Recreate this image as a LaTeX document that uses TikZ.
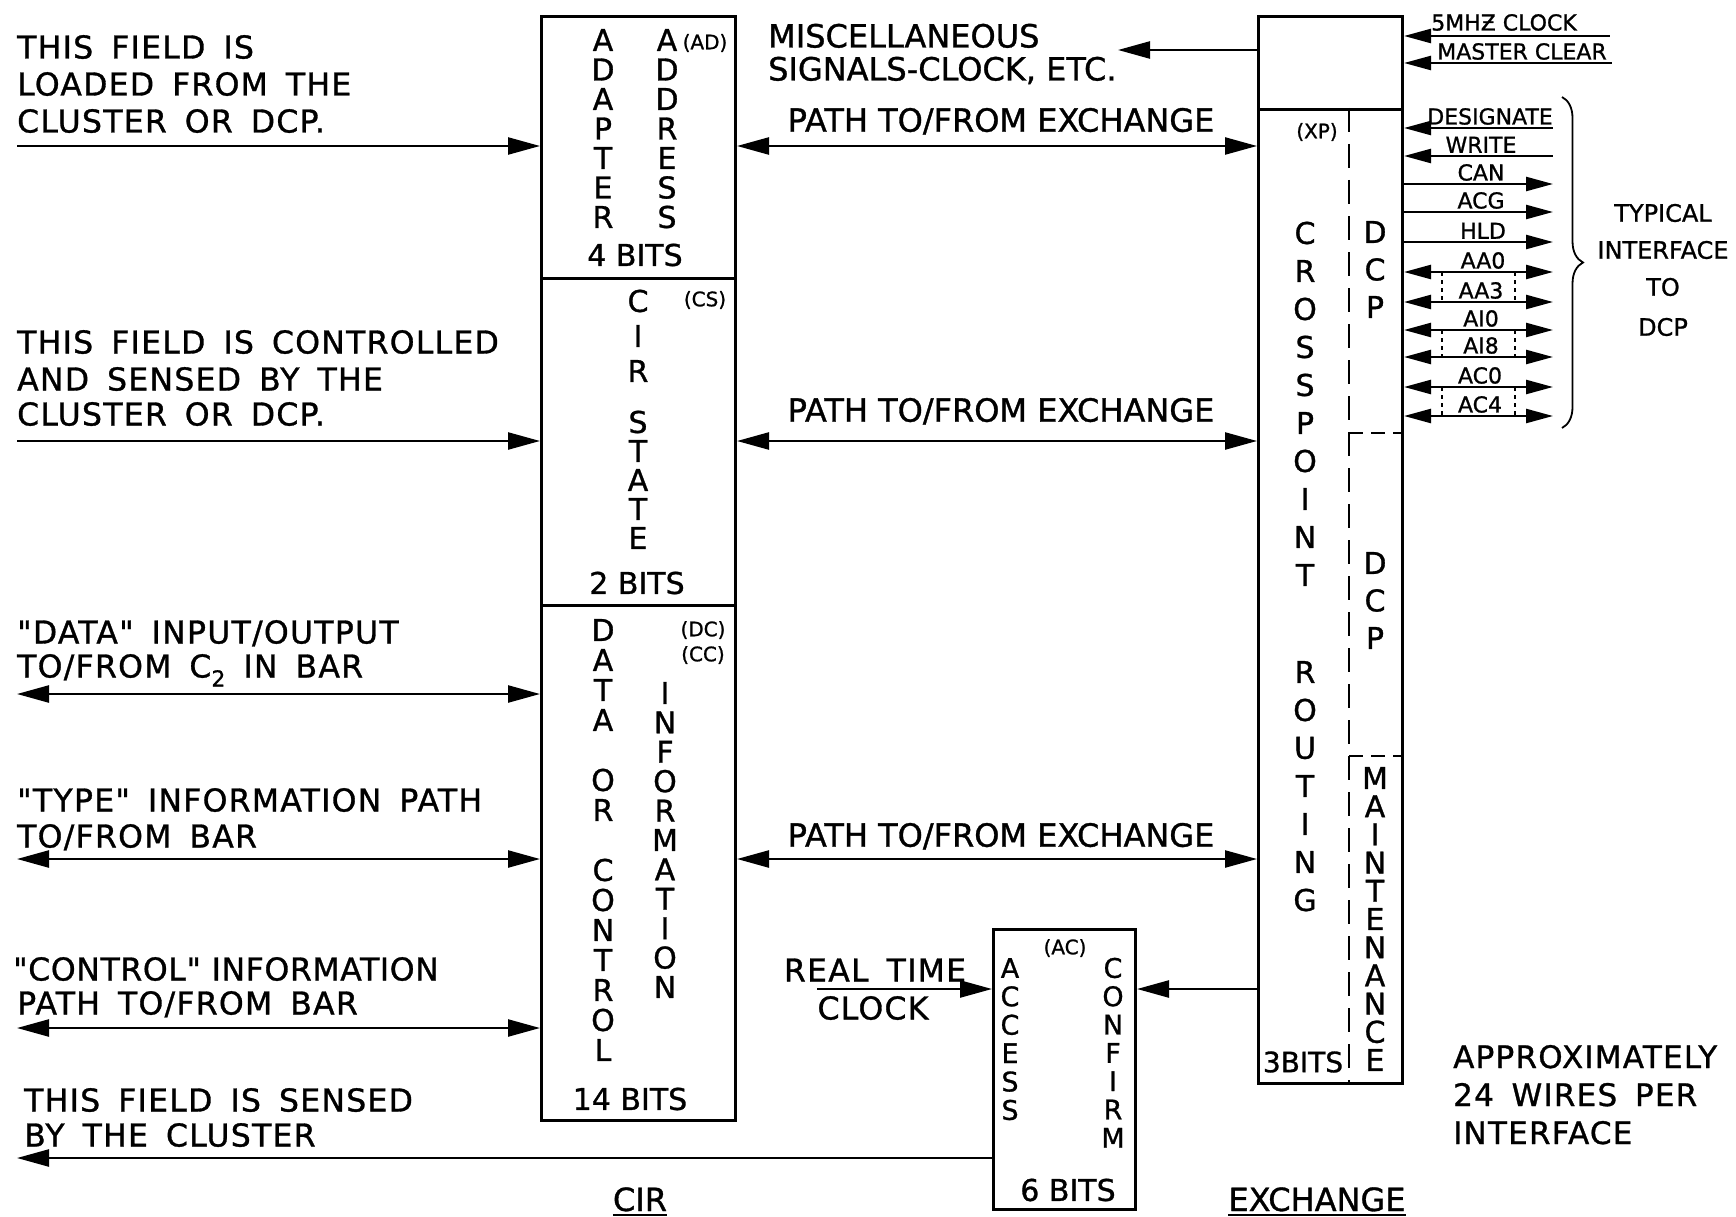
\documentclass[tikz,border=0pt]{standalone}
\usepackage{fontspec}
\setmainfont{DejaVu Sans}[FakeBold=1]
\newfontfamily\ltxt{DejaVu Sans}[LetterSpace=4,FakeBold=1,WordSpace=1.6]
\newfontfamily\ltxtn{DejaVu Sans}[LetterSpace=2,FakeBold=1]
\usetikzlibrary{arrows.meta,decorations.pathreplacing}
\newcommand\vword[5]{\foreach \lt [count=\i from 0] in {#5}{\node[vl] (#1-\i) at (#2,{#3+\i*#4}) {\lt};}}
\newcommand\vwords[5]{\foreach \lt [count=\i from 0] in {#5}{\node[vls] (#1-\i) at (#2,{#3+\i*#4}) {\lt};}}
\tikzset{
  box/.style={draw, line width=3pt, inner sep=0pt, anchor=north west},
  con/.style={line width=2.4pt},
  tipR/.style={-{Triangle[length=32pt,width=17pt]}},
  tipLR/.style={{Triangle[length=32pt,width=17pt]}-{Triangle[length=32pt,width=17pt]}},
  stipR/.style={-{Triangle[length=27pt,width=14pt]}},
  stipL/.style={{Triangle[length=27pt,width=14pt]}-},
  stipLR/.style={{Triangle[length=27pt,width=14pt]}-{Triangle[length=27pt,width=14pt]}},
  ltext/.style={anchor=base west, inner sep=0pt, font=\ltxt\fontsize{31.5}{36}\selectfont},
  mtext/.style={anchor=base, inner sep=0pt, font=\fontsize{32}{36}\selectfont},
  vl/.style={inner sep=0pt, font=\fontsize{30}{30}\selectfont},
  vls/.style={inner sep=0pt, font=\fontsize{27}{27}\selectfont},
  tag/.style={inner sep=0pt, font=\fontsize{20}{20}\selectfont},
  sig/.style={inner sep=0pt, anchor=south, font=\fontsize{22}{22}\selectfont},
  note/.style={inner sep=0pt, font=\fontsize{24}{24}\selectfont},
  dashv/.style={line width=2pt, dash pattern=on 24pt off 12pt},
  dashh/.style={line width=2pt, dash pattern=on 14pt off 8pt},
  dotv/.style={line width=1.6pt, dash pattern=on 4pt off 4pt},
}
\begin{document}
\begin{tikzpicture}[x=1pt,y=-1pt]
\fill[white] (0,0) rectangle (1736,1217);
\useasboundingbox (0,0) rectangle (1736,1217);

% ---------- CIR boxes
\node[box, minimum width=194pt, minimum height=262pt] (ad) at (540,15) {};
\node[box, minimum width=194pt, minimum height=327pt] (cs) at (540,277) {};
\node[box, minimum width=194pt, minimum height=515pt] (dc) at (540,604) {};

\vword{adapter}{603}{40}{29.5}{A,D,A,P,T,E,R}
\vword{address}{667}{40}{29.5}{A,D,D,R,E,S,S}
\node[tag] (adtag) at (705,43) {(AD)};
\node[vl] (adbits) at (635,255) {4 BITS};

\vword{cir}{638}{301}{35}{C,I,R}
\vword{state}{638}{422}{29}{S,T,A,T,E}
\node[tag] (cstag) at (705,300) {(CS)};
\node[vl] (csbits) at (637,583) {2 BITS};

\vword{data}{603}{630}{30}{D,A,T,A}
\vword{or}{603}{780}{30}{O,R}
\vword{control}{603}{870}{30}{C,O,N,T,R,O,L}
\vword{information}{665}{693}{29.4}{I,N,F,O,R,M,A,T,I,O,N}
\node[tag] (dctag) at (703,630) {(DC)};
\node[tag] (cctag) at (703,655) {(CC)};
\node[vl] (dcbits) at (630,1099) {14 BITS};

% ---------- Exchange box
\node[box, minimum width=144pt, minimum height=93pt] (xtop) at (1257,15) {};
\node[box, minimum width=144pt, minimum height=974pt] (xp) at (1257,108) {};
\draw[dashv] ([xshift=92pt]xp.north west) -- ([xshift=92pt]xp.south west);
\coordinate (h1) at (1349,433);
\coordinate (h2) at (1349,756);
\draw[dashh] (h1) -- (h1 -| xp.east);
\draw[dashh] (h2) -- (h2 -| xp.east);
\node[tag] (xptag) at (1317,132) {(XP)};
\vword{crosspoint}{1305}{233}{38}{C,R,O,S,S,P,O,I,N,T}
\vword{routing}{1305}{672}{38}{R,O,U,T,I,N,G}
\vword{dcpa}{1375}{232}{37.5}{D,C,P}
\vword{dcpb}{1375}{563}{37.5}{D,C,P}
\vword{maint}{1375}{778}{28.2}{M,A,I,N,T,E,N,A,N,C,E}
\node[inner sep=0pt, font=\fontsize{28}{28}\selectfont] (xpbits) at (1303,1062) {3BITS};

% ---------- AC box
\node[box, minimum width=142pt, minimum height=280pt] (ac) at (992,928) {};
\node[tag] (actag) at (1065,948) {(AC)};
\vwords{access}{1010}{968}{28.4}{A,C,C,E,S,S}
\vwords{confirm}{1113}{968}{28.3}{C,O,N,F,I,R,M}
\node[vl] (acbits) at (1068,1190) {6 BITS};

% ---------- left side texts
\node[ltext] (l1a) at (17,58.5) {THIS FIELD IS};
\node[ltext] (l1b) at (17,95.5) {LOADED FROM THE};
\node[ltext] (l1c) at (17,132.5) {CLUSTER OR DCP.};
\node[ltext] (l2a) at (17,353.5) {THIS FIELD IS CONTROLLED};
\node[ltext] (l2b) at (17,390.5) {AND SENSED BY THE};
\node[ltext] (l2c) at (17,425.5) {CLUSTER OR DCP.};
\node[ltext] (l3a) at (17,643.5) {"DATA" INPUT/OUTPUT};
\node[ltext] (l3b) at (17,677.5) {TO/FROM C\raisebox{-9pt}{\fontsize{22}{22}\selectfont 2} IN BAR};
\node[ltext] (l4a) at (17,811.5) {"TYPE" INFORMATION PATH};
\node[ltext] (l4b) at (17,847.5) {TO/FROM BAR};
\node[ltext, font=\ltxtn\fontsize{31.5}{36}\selectfont] (l5a) at (13,980.5) {"CONTROL" INFORMATION};
\node[ltext] (l5b) at (17,1014.5) {PATH TO/FROM BAR};
\node[ltext] (l6a) at (24,1111.5) {THIS FIELD IS SENSED};
\node[ltext] (l6b) at (24,1146.5) {BY THE CLUSTER};

% ---------- left connectors
\coordinate (a1) at (17,146);
\coordinate (a2) at (17,441);
\coordinate (a3) at (17,694);
\coordinate (a4) at (17,859);
\coordinate (a5) at (17,1028);
\coordinate (a6) at (17,1158);
\draw[con,tipR] (a1) -- (a1 -| ad.west);
\draw[con,tipR] (a2) -- (a2 -| cs.west);
\draw[con,tipLR] (a3) -- (a3 -| dc.west);
\draw[con,tipLR] (a4) -- (a4 -| dc.west);
\draw[con,tipLR] (a5) -- (a5 -| dc.west);
\draw[con,tipR] (a6 -| ac.west) -- (a6);

% ---------- middle connectors
\coordinate (p1) at (900,146);
\coordinate (p2) at (900,441);
\coordinate (p3) at (900,859);
\draw[con,tipLR] (p1 -| ad.east) -- (p1 -| xp.west);
\draw[con,tipLR] (p2 -| cs.east) -- (p2 -| xp.west);
\draw[con,tipLR] (p3 -| dc.east) -- (p3 -| xp.west);
\node[mtext] (pt1) at (1001,131.7) {PATH TO/FROM EXCHANGE};
\node[mtext] (pt2) at (1001,421.7) {PATH TO/FROM EXCHANGE};
\node[mtext] (pt3) at (1001,846.7) {PATH TO/FROM EXCHANGE};

\coordinate (m1) at (1118,50);
\draw[con,tipR] (m1 -| xtop.west) -- (m1);
\node[mtext, anchor=base west] (misc1) at (768,47.5) {MISCELLANEOUS};
\node[mtext, anchor=base west] (misc2) at (768,80.5) {SIGNALS-CLOCK, ETC.};

\coordinate (rt) at (817,989);
\draw[con,tipR] (rt) -- (rt -| ac.west);
\draw[con,tipR] (rt -| xp.west) -- (rt -| ac.east);
\node[ltext, anchor=base] (rt1) at (875,981.5) {REAL TIME};
\node[ltext, anchor=base] (rt2) at (873,1019.5) {CLOCK};

% ---------- right side signals
\coordinate (ck) at (1610,36);
\coordinate (mc) at (1612,63);
\draw[con,stipL] (ck -| xtop.east) -- (ck);
\draw[con,stipL] (mc -| xtop.east) -- (mc);
\node[sig] (ckl) at (1504,31) {5MHƵ CLOCK};
\node[sig] (mcl) at (1522,60) {MASTER CLEAR};

\foreach \nm/\yy/\lbl/\st/\cx in {
  dsg/128/DESIGNATE/stipL/1490,
  wrt/156/WRITE/stipL/1481,
  can/184/CAN/stipR/1481,
  acg/212/ACG/stipR/1481,
  hld/242/HLD/stipR/1483,
  aa0/272/AA0/stipLR/1483,
  aa3/302/AA3/stipLR/1481,
  ai0/330/AI0/stipLR/1481,
  ai8/357/AI8/stipLR/1481,
  ac0/387/AC0/stipLR/1480,
  ac4/416/AC4/stipLR/1480}{
  \coordinate (\nm) at (1553,\yy);
  \draw[con,\st] (\nm -| xp.east) -- (\nm);
  \node[sig] (\nm-l) at (\cx,{\yy-3}) {\lbl};
}
\foreach \u/\d in {aa0/aa3, ai0/ai8, ac0/ac4}{
  \draw[dotv] (1442,0 |- \u) -- (1442,0 |- \d);
  \draw[dotv] (1515,0 |- \u) -- (1515,0 |- \d);
}
\draw[line width=1.8pt, decorate, decoration={brace, amplitude=21pt}] (1562,97) -- (1562,428);
\node[note] (ty1) at (1663,213) {TYPICAL};
\node[note] (ty2) at (1663,250) {INTERFACE};
\node[note] (ty3) at (1663,287) {TO};
\node[note] (ty4) at (1663,327) {DCP};

% ---------- bottom notes
\node[ltext, font=\ltxt\fontsize{31}{36}\selectfont] (ap1) at (1453,1068) {APPROXIMATELY};
\node[ltext, font=\ltxt\fontsize{31}{36}\selectfont] (ap2) at (1453,1106) {24 WIRES PER};
\node[ltext, font=\ltxt\fontsize{31}{36}\selectfont] (ap3) at (1453,1144) {INTERFACE};

\node[mtext] (cirl) at (640,1211) {CIR};
\node[mtext] (exl) at (1317,1211) {EXCHANGE};
\draw[line width=2pt] ([yshift=-4pt]cirl.base west) -- ([yshift=-4pt]cirl.base east);
\draw[line width=2pt] ([yshift=-4pt]exl.base west) -- ([yshift=-4pt]exl.base east);
\end{tikzpicture}
\end{document}
